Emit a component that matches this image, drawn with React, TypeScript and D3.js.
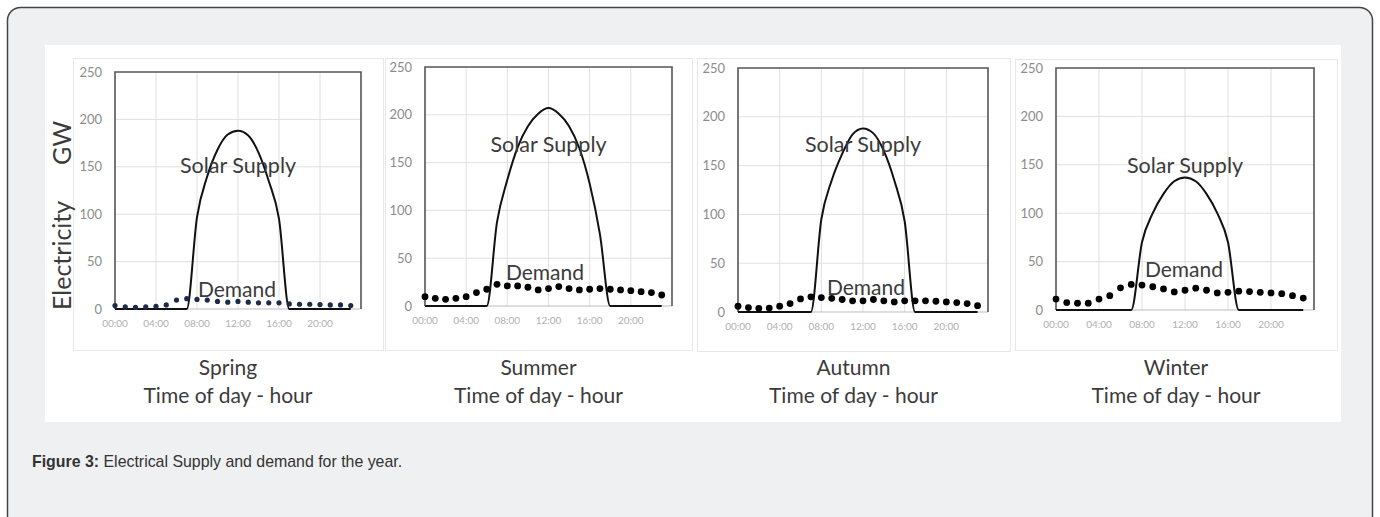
import { useMemo } from "react";
import * as d3 from "d3";

const WIDTH = 1380;
const HEIGHT = 517;

// hour of day for each point
const HOURS = [0, 1, 2, 3, 4, 5, 6, 7, 8, 9, 10, 11, 12, 13, 14, 15, 16, 17, 18, 19, 20, 21, 22, 23];
const X_TICK_HOURS = [0, 4, 8, 12, 16, 20];
const X_TICK_LABELS = ["00:00", "04:00", "08:00", "12:00", "16:00", "20:00"];
const Y_TICKS = [0, 50, 100, 150, 200, 250];
const SEASONS = ["Spring", "Summer", "Autumn", "Winter"];

const SPRING_SUPPLY = [0, 0, 0, 0, 0, 0, 0, 0, 97, 140, 168, 184, 188, 183, 165, 135, 95, 0, 0, 0, 0, 0, 0, 0];
const SPRING_DEMAND = [3.6, 2.2, 1.8, 2.2, 2.9, 4.3, 9.4, 10.9, 10.1, 9.4, 8, 7.2, 8, 7.2, 6.5, 6.5, 6.5, 5.4, 5, 5, 4.7, 4.3, 4.3, 3.6];

const SUMMER_SUPPLY = [0, 0, 0, 0, 0, 0, 0, 88, 132, 166, 188, 201, 207, 201, 188, 165, 128, 75, 0, 0, 0, 0, 0, 0];
const SUMMER_DEMAND = [9.8, 8, 7, 8, 9.8, 14, 17.5, 22.7, 21, 21, 19.6, 16.8, 18.2, 20.3, 18.2, 16.8, 17.5, 18.2, 17.5, 16.8, 16, 15, 14, 11.5];

const AUTUMN_SUPPLY = [0, 0, 0, 0, 0, 0, 0, 0, 95, 135, 162, 182, 188, 183, 165, 135, 93, 0, 0, 0, 0, 0, 0, 0];
const AUTUMN_DEMAND = [5.9, 4.5, 3.8, 4, 6, 8.6, 13.4, 15.5, 14.8, 14, 12.8, 11.4, 11.4, 12.8, 11.4, 10.3, 11.4, 11.4, 11.4, 11, 10.3, 9.7, 8.6, 6.5];

const WINTER_SUPPLY = [0, 0, 0, 0, 0, 0, 0, 0, 70, 100, 120, 133, 137, 133, 120, 100, 70, 0, 0, 0, 0, 0, 0, 0];
const WINTER_DEMAND = [11.3, 7.7, 7, 7, 11.3, 14.8, 22.9, 26.4, 25.7, 24, 21.8, 18.7, 20.4, 22.5, 20.4, 17.6, 18.3, 19.4, 19, 18.3, 17.6, 16.9, 14.8, 12.3];

const SUPPLY = [SPRING_SUPPLY, SUMMER_SUPPLY, AUTUMN_SUPPLY, WINTER_SUPPLY];
const DEMAND = [SPRING_DEMAND, SUMMER_DEMAND, AUTUMN_DEMAND, WINTER_DEMAND];

// where each little excel chart sits in the figure
const LAYOUT = [
  { box: [73, 58, 383, 350], left: 115, right: 361, top: 72, bottom: 309, solarY: 173, demandX: 237, demandY: 297, dotR: 2.6, dotColor: "#1b2b48" },
  { box: [385, 58, 692, 350], left: 425, right: 672, top: 67, bottom: 306, solarY: 152, demandX: 545, demandY: 280, dotR: 3.4, dotColor: "#000" },
  { box: [697, 58, 1010, 351], left: 738, right: 988, top: 68, bottom: 312, solarY: 152, demandX: 866, demandY: 295, dotR: 3.4, dotColor: "#000" },
  { box: [1015, 59, 1337, 350], left: 1056, right: 1314, top: 68, bottom: 310, solarY: 173, demandX: 1184, demandY: 277, dotR: 3.4, dotColor: "#000" },
];

const FONT = "Lato, 'DejaVu Sans', sans-serif";
const TEXT = "#3b3b3b";

type PanelProps = {
  layout: (typeof LAYOUT)[number];
  supply: number[];
  demand: number[];
  season: string;
};

const Panel = ({ layout, supply, demand, season }: PanelProps) => {
  const xScale = useMemo(
    () => d3.scaleLinear().domain([0, 24]).range([layout.left, layout.right]),
    [layout]
  );
  const yScale = useMemo(
    () => d3.scaleLinear().domain([0, 250]).range([layout.bottom, layout.top]),
    [layout]
  );

  const linePath = d3
    .line<number>()
    .x((_, i) => xScale(HOURS[i]))
    .y((d) => yScale(d))
    .curve(d3.curveMonotoneX)(supply);

  const [bx0, by0, bx1, by1] = layout.box;
  const center = (bx0 + bx1) / 2;
  const peakX = xScale(12);

  return (
    <g>
      <rect x={bx0 + 0.5} y={by0 + 0.5} width={bx1 - bx0} height={by1 - by0} fill="#fff" stroke="#e8e8e8" />

      {/* grid */}
      {Y_TICKS.slice(1, -1).map((t) => (
        <line key={"h" + t} x1={layout.left} x2={layout.right} y1={yScale(t)} y2={yScale(t)} stroke="#e0e0e0" />
      ))}
      {X_TICK_HOURS.slice(1).map((h) => (
        <line key={"v" + h} x1={xScale(h)} x2={xScale(h)} y1={layout.top} y2={layout.bottom} stroke="#e0e0e0" />
      ))}

      {/* frame */}
      <line x1={layout.left} x2={layout.right} y1={layout.bottom} y2={layout.bottom} stroke="#bdbdbd" />
      <path
        d={`M${layout.left},${layout.bottom}V${layout.top}H${layout.right}V${layout.bottom}`}
        fill="none"
        stroke="#555"
        strokeWidth={1.6}
      />

      {/* ticks */}
      {Y_TICKS.map((t) => (
        <text key={"yt" + t} x={layout.left - 13} y={yScale(t)} dy="0.35em" textAnchor="end" fontSize={13} fill="#8c8c8c" fontFamily={FONT}>
          {t}
        </text>
      ))}
      {X_TICK_HOURS.map((h, i) => (
        <text key={"xt" + h} x={xScale(h)} y={layout.bottom + 18} textAnchor="middle" fontSize={10} fill="#b0b0b0" fontFamily={FONT}>
          {X_TICK_LABELS[i]}
        </text>
      ))}

      <path d={linePath ?? ""} fill="none" stroke="#111" strokeWidth={2} />
      {demand.map((d, i) => (
        <circle key={i} cx={xScale(HOURS[i])} cy={yScale(d)} r={layout.dotR} fill={layout.dotColor} />
      ))}

      <text x={peakX} y={layout.solarY} textAnchor="middle" fontSize={21.5} fill={TEXT} fontFamily={FONT}>
        Solar Supply
      </text>
      <text x={layout.demandX} y={layout.demandY} textAnchor="middle" fontSize={21} fill={TEXT} fontFamily={FONT}>
        Demand
      </text>

      <text x={center} y={375} textAnchor="middle" fontSize={21} fill={TEXT} fontFamily={FONT}>
        {season}
      </text>
      <text x={center} y={403} textAnchor="middle" fontSize={21} fill={TEXT} fontFamily={FONT}>
        Time of day - hour
      </text>
    </g>
  );
};

export default function App() {
  return (
    <svg width={WIDTH} height={HEIGHT} style={{ position: "absolute", left: 0, top: 0 }}>
      <rect x={0} y={0} width={WIDTH} height={HEIGHT} fill="#fff" />
      <rect x={7.5} y={7.5} width={1365} height={522} rx={13} fill="#eff0f2" stroke="#444" strokeWidth={1.5} />
      <rect x={45} y={45} width={1296} height={377} fill="#fff" />

      {SEASONS.map((s, i) => (
        <Panel key={s} layout={LAYOUT[i]} supply={SUPPLY[i]} demand={DEMAND[i]} season={s} />
      ))}

      <g transform="translate(62, 222) rotate(-90)" fontFamily={FONT} fontSize={25} fill={TEXT}>
        <text x={-88} y={9}>Electricity</text>
        <text x={57} y={9}>GW</text>
      </g>

      <text x={32} y={467} fontFamily="'Liberation Sans', Arial, sans-serif" fontSize={15.9} fill="#333">
        <tspan fontWeight="bold">Figure 3:</tspan> Electrical Supply and demand for the year.
      </text>
    </svg>
  );
}
